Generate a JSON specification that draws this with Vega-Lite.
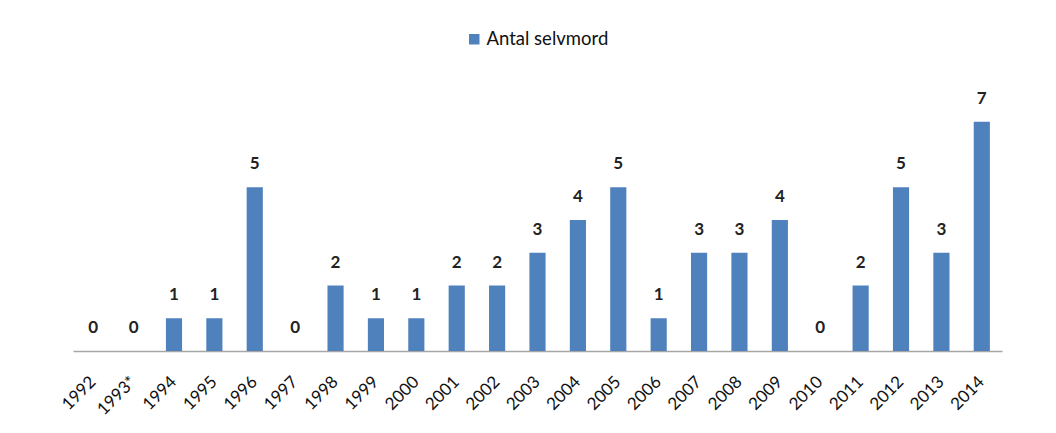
{
  "$schema": "https://vega.github.io/schema/vega-lite/v6.json",
  "width": 929,
  "height": 262,
  "padding": {"left": 73, "top": 89, "right": 54, "bottom": 82},
  "autosize": {"type": "none"},
  "background": "white",
  "view": {"stroke": null},
  "data": {
    "values": [
      {"year": "1992", "count": 0, "series": "Antal selvmord"},
      {"year": "1993*", "count": 0, "series": "Antal selvmord"},
      {"year": "1994", "count": 1, "series": "Antal selvmord"},
      {"year": "1995", "count": 1, "series": "Antal selvmord"},
      {"year": "1996", "count": 5, "series": "Antal selvmord"},
      {"year": "1997", "count": 0, "series": "Antal selvmord"},
      {"year": "1998", "count": 2, "series": "Antal selvmord"},
      {"year": "1999", "count": 1, "series": "Antal selvmord"},
      {"year": "2000", "count": 1, "series": "Antal selvmord"},
      {"year": "2001", "count": 2, "series": "Antal selvmord"},
      {"year": "2002", "count": 2, "series": "Antal selvmord"},
      {"year": "2003", "count": 3, "series": "Antal selvmord"},
      {"year": "2004", "count": 4, "series": "Antal selvmord"},
      {"year": "2005", "count": 5, "series": "Antal selvmord"},
      {"year": "2006", "count": 1, "series": "Antal selvmord"},
      {"year": "2007", "count": 3, "series": "Antal selvmord"},
      {"year": "2008", "count": 3, "series": "Antal selvmord"},
      {"year": "2009", "count": 4, "series": "Antal selvmord"},
      {"year": "2010", "count": 0, "series": "Antal selvmord"},
      {"year": "2011", "count": 2, "series": "Antal selvmord"},
      {"year": "2012", "count": 5, "series": "Antal selvmord"},
      {"year": "2013", "count": 3, "series": "Antal selvmord"},
      {"year": "2014", "count": 7, "series": "Antal selvmord"}
    ]
  },
  "encoding": {
    "x": {
      "field": "year",
      "type": "nominal",
      "sort": null,
      "scale": {"paddingInner": 0.6, "paddingOuter": 0.3},
      "axis": {
        "title": null,
        "labelAngle": -45,
        "labelAlign": "right",
        "labelBaseline": "middle",
        "labelFont": "Lato",
        "labelFontSize": 17,
        "labelColor": "#111111",
        "labelPadding": 28,
        "labelDx": -3,
        "ticks": false,
        "domainColor": "#a6a6a6",
        "domainWidth": 1.5,
        "grid": false
      }
    },
    "y": {
      "field": "count",
      "type": "quantitative",
      "scale": {"domain": [0, 8]},
      "axis": null
    }
  },
  "layer": [
    {
      "mark": {"type": "bar", "color": "#4f81bd"},
      "encoding": {
        "color": {
          "field": "series",
          "type": "nominal",
          "scale": {"range": ["#4f81bd"]},
          "legend": {
            "title": null,
            "orient": "none",
            "legendX": 392,
            "legendY": -59,
            "symbolType": "square",
            "symbolSize": 110,
            "symbolStrokeWidth": 0,
            "labelFont": "Lato",
            "labelFontSize": 18.5,
            "labelColor": "#111111",
            "labelOffset": 3
          }
        }
      }
    },
    {
      "mark": {
        "type": "text",
        "baseline": "alphabetic",
        "dy": -18,
        "font": "Lato",
        "fontSize": 17,
        "fontWeight": "bold",
        "color": "#222222"
      },
      "encoding": {
        "text": {"field": "count", "type": "quantitative"}
      }
    }
  ]
}
